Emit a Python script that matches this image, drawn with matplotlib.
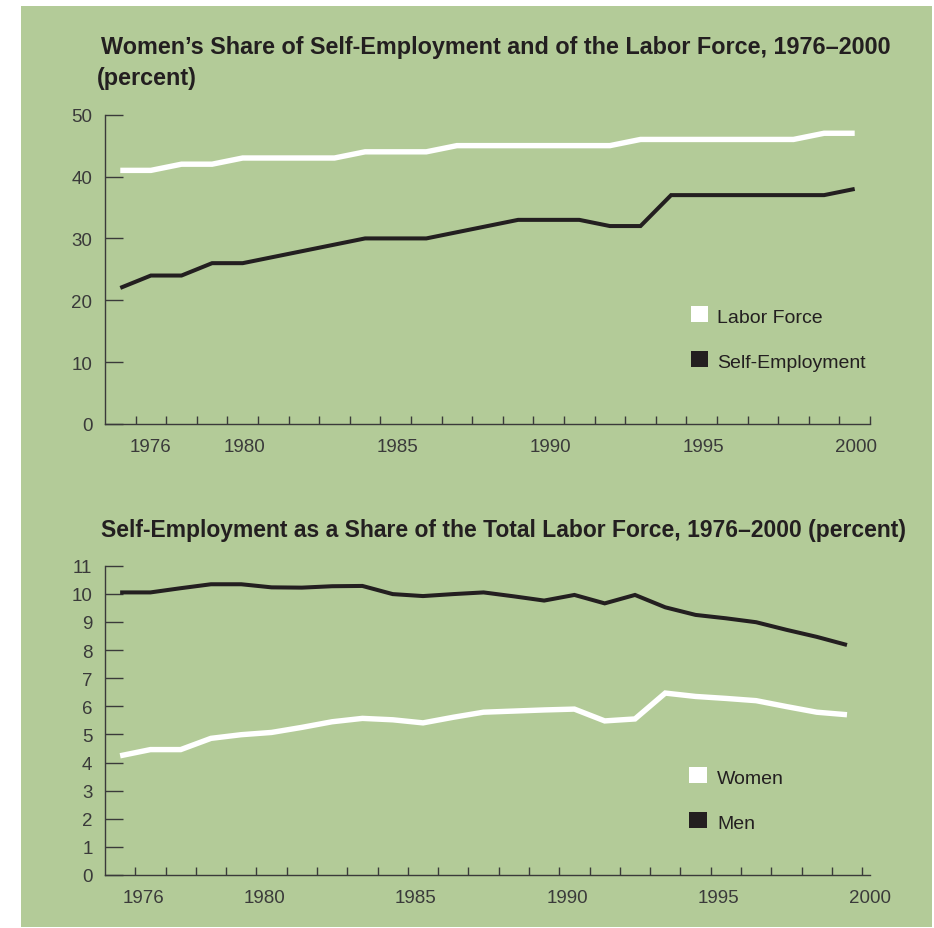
import matplotlib
matplotlib.use("Agg")
import matplotlib.pyplot as plt
from matplotlib.patches import Rectangle
import numpy as np

plt.rcParams['font.family'] = ['Liberation Sans', 'DejaVu Sans']

# ---------------- data ----------------
years = list(range(1976, 2001))

labor_force = [41, 41, 42, 42, 43, 43, 43, 43, 44, 44, 44, 45, 45, 45, 45, 45, 45,
               46, 46, 46, 46, 46, 46, 47, 47]
self_employment = [22, 24, 24, 26, 26, 27, 28, 29, 30, 30, 30, 31, 32, 33, 33, 33,
                   32, 32, 37, 37, 37, 37, 37, 37, 38]

women = [4.24, 4.46, 4.46, 4.86, 4.99, 5.07, 5.25, 5.45, 5.57, 5.52, 5.41, 5.61,
         5.79, 5.83, 5.87, 5.90, 5.48, 5.55, 6.47, 6.35, 6.28, 6.20, 5.99, 5.79, 5.70]
men = [10.05, 10.05, 10.20, 10.34, 10.34, 10.23, 10.22, 10.27, 10.28, 9.99, 9.92, 9.99,
       10.05, 9.91, 9.76, 9.96, 9.66, 9.96, 9.52, 9.25, 9.13, 8.99, 8.72, 8.47, 8.18]

xtick_years = [1976, 1980, 1985, 1990, 1995, 2000]
top_yticks = [0, 10, 20, 30, 40, 50]
bottom_yticks = list(range(0, 12))

title_top_1 = "Women\u2019s Share of Self-Employment and of the Labor Force, 1976\u20132000"
title_top_2 = "(percent)"
title_bottom = "Self-Employment as a Share of the Total Labor Force, 1976\u20132000 (percent)"
legend_top = ["Labor Force", "Self-Employment"]
legend_bottom = ["Women", "Men"]

# ---------------- style ----------------
GREEN = "#b3cb98"
DARK = "#231f20"
AXC = "#3a3a3a"
TXT = "#3a3a3a"
W, H = 934, 929

fig = plt.figure(figsize=(W / 100, H / 100), dpi=100)
fig.patches.append(Rectangle((21 / W, 1 - 928 / H), 911 / W, 921 / H,
                             transform=fig.transFigure, facecolor=GREEN,
                             edgecolor="none", zorder=-10))

def px_axes(left, top, right, bottom):
    return fig.add_axes([left / W, 1 - bottom / H, (right - left) / W, (bottom - top) / H])

ax1 = px_axes(105, 115.7, 870, 425)
ax2 = px_axes(105, 566.7, 870, 876)

def style(ax, ylim, yticks, label_pos):
    ax.set_facecolor("none")
    for s in ("top", "right"):
        ax.spines[s].set_visible(False)
    for s in ("left", "bottom"):
        ax.spines[s].set_color(AXC)
        ax.spines[s].set_linewidth(1.0)
    ax.set_xlim(1975.5, 2000.5)
    ax.set_ylim(*ylim)
    ax.set_yticks(yticks)
    ax.set_yticklabels([str(t) for t in yticks])
    ax.tick_params(axis="y", direction="in", length=13.3, width=1.0, color=AXC,
                   labelsize=13.5, labelcolor=TXT, pad=9)
    ax.set_xticks(label_pos)
    ax.set_xticklabels([str(y) for y in xtick_years])
    ax.set_xticks(np.arange(1976.5, 2001.0, 1.0), minor=True)
    ax.tick_params(axis="x", which="major", length=0, labelsize=13.5, labelcolor=TXT, pad=10.2)
    ax.tick_params(axis="x", which="minor", direction="in", length=6, width=1.0, color=AXC)

top_label_pos = [y + (1.0 if y == 1976 else 0.05) for y in xtick_years]
bottom_label_pos = [y + 0.76 for y in xtick_years]

style(ax1, (0, 50), top_yticks, top_label_pos)
style(ax2, (0, 11), bottom_yticks, bottom_label_pos)

ax1.plot(years, labor_force, color="white", lw=3.9, solid_capstyle="butt", solid_joinstyle="miter")
ax1.plot(years, self_employment, color=DARK, lw=2.9, solid_capstyle="butt", solid_joinstyle="miter")
ax2.plot(years, women, color="white", lw=3.9, solid_capstyle="butt", solid_joinstyle="miter")
ax2.plot(years, men, color=DARK, lw=2.9, solid_capstyle="butt", solid_joinstyle="miter")

def legend(ax, labels, colors, x0, ycs):
    sw = 17.3 / 765
    sh = 16.5 / 309.3
    cap_half = 7.6 / 309.3
    for lab, col, yc in zip(labels, colors, ycs):
        ax.add_patch(Rectangle((x0, yc - sh / 2), sw, sh, transform=ax.transAxes,
                               facecolor=col, edgecolor="none", clip_on=False))
        ax.text(0.800, yc - cap_half, lab, transform=ax.transAxes, va="baseline",
                ha="left", fontsize=14, color=DARK)

legend(ax1, legend_top, ["white", DARK], 0.766, [0.3556, 0.2102])
legend(ax2, legend_bottom, ["white", DARK], 0.764, [0.3233, 0.1778])

fig.text(101 / W, 1 - 54 / H, title_top_1, fontsize=16.8, fontweight="bold",
         color=DARK, va="baseline", ha="left")
fig.text(97 / W, 1 - 85 / H, title_top_2, fontsize=16.8, fontweight="bold",
         color=DARK, va="baseline", ha="left")
fig.text(101 / W, 1 - 536.7 / H, title_bottom, fontsize=16.5, fontweight="bold",
         color=DARK, va="baseline", ha="left")

fig.savefig("out.png", dpi=100)
